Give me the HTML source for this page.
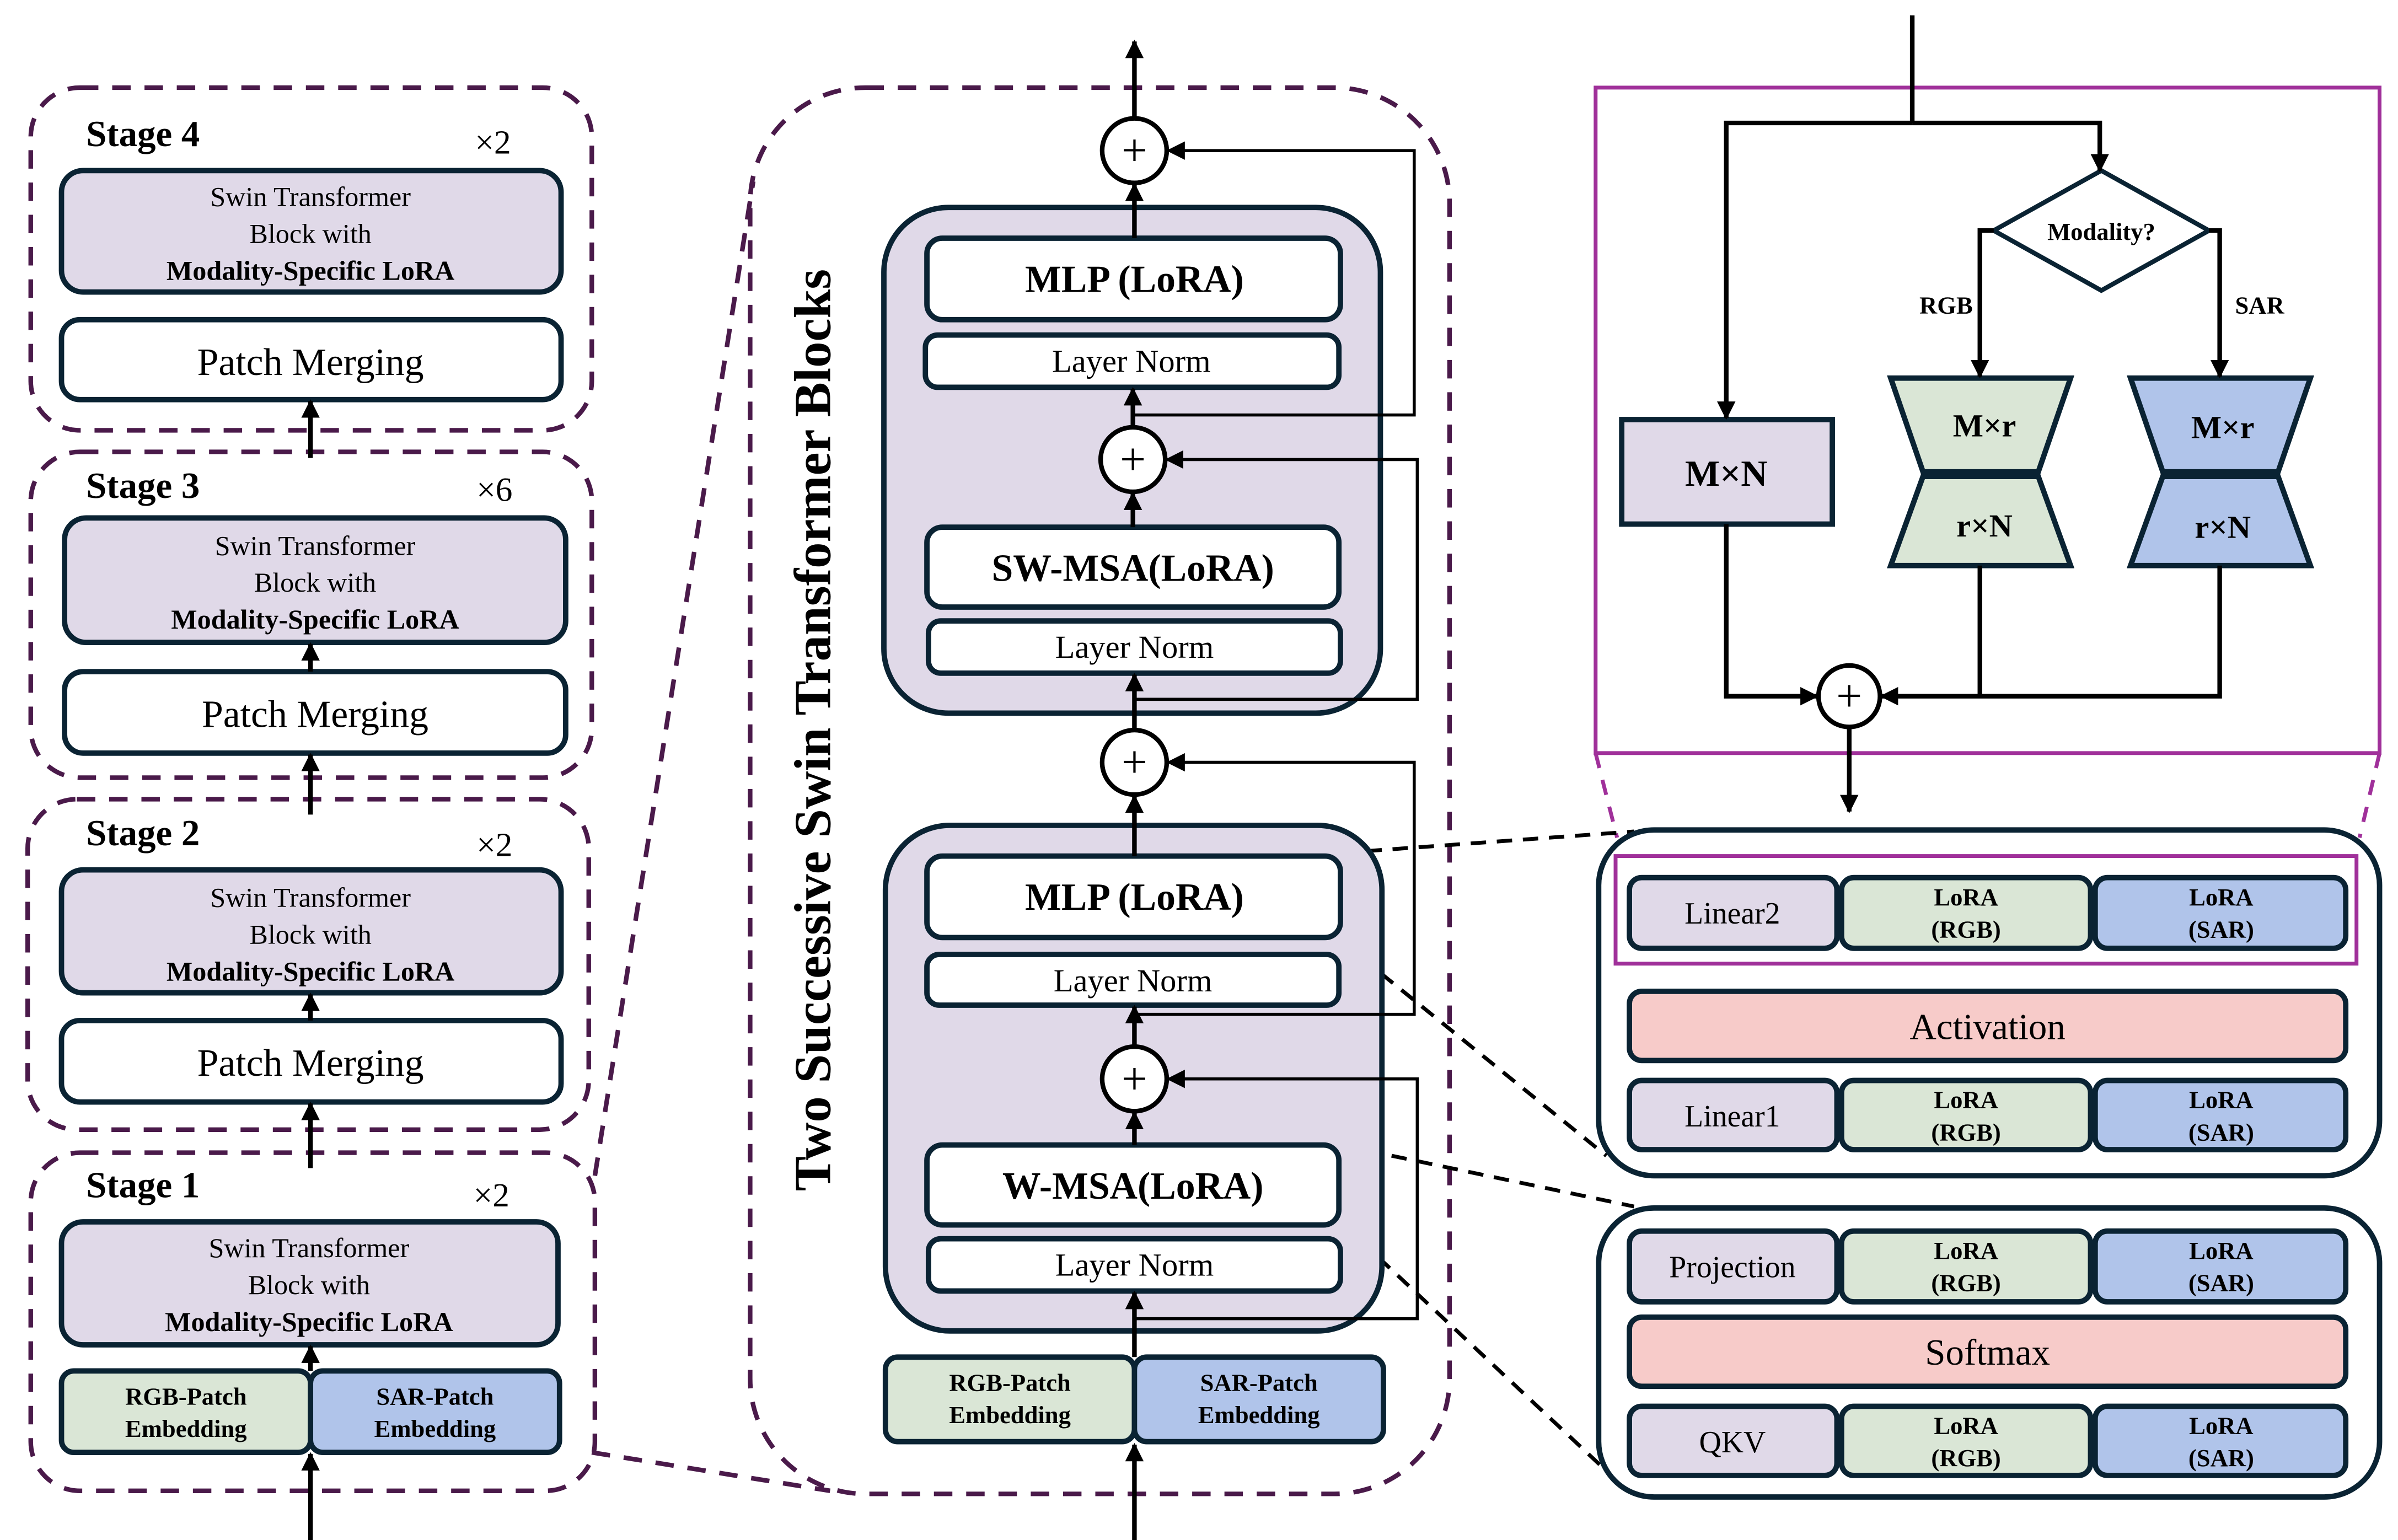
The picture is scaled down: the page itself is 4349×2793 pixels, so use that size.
<!DOCTYPE html>
<html><head><meta charset="utf-8"><style>
html,body{margin:0;padding:0;background:#fff;}
svg{display:block;}
text{font-family:"Liberation Serif",serif;fill:#000;}
</style></head><body>
<svg width="4349" height="2793" viewBox="0 0 1560 1002" preserveAspectRatio="none" xmlns="http://www.w3.org/2000/svg">
<defs>
<marker id="a" viewBox="0 0 10 10" refX="9" refY="5" markerWidth="4" markerHeight="4" orient="auto-start-reverse" markerUnits="strokeWidth"><path d="M0,0 L10,5 L0,10 z" fill="#000"/></marker>
<marker id="b" viewBox="0 0 10 10" refX="9" refY="5" markerWidth="6" markerHeight="6" orient="auto" markerUnits="strokeWidth"><path d="M0,0 L10,5 L0,10 z" fill="#000"/></marker>
</defs>
<g fill="none" stroke="#4a1a4a" stroke-width="3" stroke-dasharray="12,9">
<rect x="20" y="57" width="365" height="223" rx="32"/>
<rect x="20" y="294" width="365" height="212" rx="32"/>
<rect x="18" y="520" width="365" height="215" rx="32"/>
<rect x="20" y="750" width="367" height="220" rx="32"/>
<rect x="488" y="57" width="455" height="915" rx="75"/>
<line x1="387" y1="765" x2="490" y2="118"/>
<line x1="385" y1="945" x2="540" y2="970"/>
</g>
<g fill="none" stroke="#a0309a" stroke-width="2.5">
<rect x="1038" y="57" width="510" height="433"/>
<rect x="1051" y="557" width="482" height="70"/>
<line x1="1038" y1="490" x2="1052" y2="545" stroke-dasharray="10,8"/>
<line x1="1548" y1="490" x2="1535" y2="545" stroke-dasharray="10,8"/>
</g>
<g fill="none" stroke="#000" stroke-width="2.5" stroke-dasharray="10,7">
<line x1="872" y1="555" x2="1063" y2="541"/>
<line x1="872" y1="612" x2="1045" y2="752"/>
<line x1="872" y1="745" x2="1063" y2="785"/>
<line x1="872" y1="795" x2="1045" y2="957"/>
</g>
<g stroke="#0a2333" stroke-width="3.5">
<rect x="40" y="111" width="325" height="79" rx="14" fill="#e0d9e8"/>
<rect x="40" y="208" width="325" height="52" rx="12" fill="#fff"/>
<rect x="42" y="337" width="326" height="81" rx="14" fill="#e0d9e8"/>
<rect x="42" y="437" width="326" height="53" rx="12" fill="#fff"/>
<rect x="40" y="566" width="325" height="80" rx="14" fill="#e0d9e8"/>
<rect x="40" y="664" width="325" height="53" rx="12" fill="#fff"/>
<rect x="40" y="795" width="323" height="80" rx="14" fill="#e0d9e8"/>
<rect x="40" y="892" width="162" height="53" rx="8" fill="#dae6d6"/>
<rect x="202" y="892" width="162" height="53" rx="8" fill="#b0c4ea"/>
<rect x="575" y="135" width="323" height="329" rx="42" fill="#e0d9e8"/>
<rect x="576" y="537" width="323" height="329" rx="42" fill="#e0d9e8"/>
<rect x="603" y="155" width="269" height="53" rx="10" fill="#fff"/>
<rect x="602" y="218" width="269" height="34" rx="8" fill="#fff"/>
<rect x="603" y="343" width="268" height="52" rx="10" fill="#fff"/>
<rect x="604" y="404" width="268" height="34" rx="8" fill="#fff"/>
<rect x="603" y="557" width="269" height="53" rx="10" fill="#fff"/>
<rect x="603" y="621" width="268" height="33" rx="8" fill="#fff"/>
<rect x="603" y="745" width="268" height="52" rx="10" fill="#fff"/>
<rect x="604" y="806" width="268" height="34" rx="8" fill="#fff"/>
<rect x="576" y="883" width="162" height="55" rx="8" fill="#dae6d6"/>
<rect x="738" y="883" width="162" height="55" rx="8" fill="#b0c4ea"/>
<rect x="1055" y="273" width="137" height="68" fill="#e0d9e8"/>
<polygon points="1230,246 1347,246 1326,307 1251,307" fill="#dae6d6"/>
<polygon points="1251,310 1326,310 1347,368 1230,368" fill="#dae6d6"/>
<polygon points="1386,246 1503,246 1482,307 1407,307" fill="#b0c4ea"/>
<polygon points="1407,310 1482,310 1503,368 1386,368" fill="#b0c4ea"/>
<polygon points="1367,111 1437,150 1367,189 1297,150" fill="#fff" stroke-width="3"/>
<rect x="1040" y="540" width="508" height="225" rx="36" fill="none"/>
<rect x="1040" y="786" width="508" height="188" rx="36" fill="none"/>
<rect x="1060" y="571" width="135" height="46" rx="8" fill="#e0d9e8"/>
<rect x="1198" y="571" width="162" height="46" rx="8" fill="#dae6d6"/>
<rect x="1363" y="571" width="163" height="46" rx="8" fill="#b0c4ea"/>
<rect x="1060" y="645" width="466" height="45" rx="8" fill="#f7cbc9"/>
<rect x="1060" y="703" width="135" height="45" rx="8" fill="#e0d9e8"/>
<rect x="1198" y="703" width="162" height="45" rx="8" fill="#dae6d6"/>
<rect x="1363" y="703" width="163" height="45" rx="8" fill="#b0c4ea"/>
<rect x="1060" y="801" width="135" height="46" rx="8" fill="#e0d9e8"/>
<rect x="1198" y="801" width="162" height="46" rx="8" fill="#dae6d6"/>
<rect x="1363" y="801" width="163" height="46" rx="8" fill="#b0c4ea"/>
<rect x="1060" y="857" width="466" height="45" rx="8" fill="#f7cbc9"/>
<rect x="1060" y="915" width="135" height="45" rx="8" fill="#e0d9e8"/>
<rect x="1198" y="915" width="162" height="45" rx="8" fill="#dae6d6"/>
<rect x="1363" y="915" width="163" height="45" rx="8" fill="#b0c4ea"/>
</g>
<g stroke="#000" stroke-width="3" fill="none" marker-end="url(#a)">
<line x1="202" y1="298" x2="202" y2="261"/>
<line x1="202" y1="437" x2="202" y2="419"/>
<line x1="202" y1="530" x2="202" y2="491"/>
<line x1="202" y1="664" x2="202" y2="647"/>
<line x1="202" y1="760" x2="202" y2="718"/>
<line x1="202" y1="892" x2="202" y2="876"/>
<line x1="202" y1="1002" x2="202" y2="946"/>
<line x1="738" y1="77" x2="738" y2="27"/>
<line x1="738" y1="155" x2="738" y2="120"/>
<line x1="737" y1="278" x2="737" y2="253"/>
<line x1="737" y1="343" x2="737" y2="321"/>
<line x1="738" y1="475" x2="738" y2="439"/>
<line x1="738" y1="557" x2="738" y2="518"/>
<line x1="738" y1="681" x2="738" y2="655"/>
<line x1="738" y1="745" x2="738" y2="724"/>
<line x1="738" y1="883" x2="738" y2="841"/>
<line x1="738" y1="1002" x2="738" y2="940"/>
</g>
<g stroke="#000" stroke-width="2" fill="none" marker-end="url(#b)">
<polyline points="738,270 920,270 920,98 760,98"/>
<polyline points="738,455 922,455 922,299 759,299"/>
<polyline points="738,660 920,660 920,496 760,496"/>
<polyline points="738,858 922,858 922,702 760,702"/>
</g>
<g stroke="#000" stroke-width="3" fill="none" marker-end="url(#a)">
<line x1="1244" y1="10" x2="1244" y2="80" marker-end="none"/>
<polyline points="1244,80 1123,80 1123,272"/>
<polyline points="1244,80 1366,80 1366,111"/>
<polyline points="1297,150 1288,150 1288,245"/>
<polyline points="1437,150 1444,150 1444,245"/>
<polyline points="1123,341 1123,453 1182,453"/>
<polyline points="1444,368 1444,453 1224,453"/>
<line x1="1288" y1="368" x2="1288" y2="453" marker-end="none"/>
<line x1="1203" y1="474" x2="1203" y2="528"/>
</g>
<g stroke="#000" stroke-width="3" fill="#fff">
<circle cx="738" cy="98" r="21"/><circle cx="737" cy="299" r="21"/>
<circle cx="738" cy="496" r="21"/><circle cx="738" cy="702" r="21"/>
<circle cx="1203" cy="453" r="20"/>
</g>
<g font-size="30" text-anchor="middle" dominant-baseline="central">
<text x="738" y="98">+</text><text x="737" y="299">+</text><text x="738" y="496">+</text><text x="738" y="702">+</text><text x="1203" y="453">+</text>
</g>
<g font-weight="bold" font-size="24">
<text x="56" y="95">Stage 4</text><text x="56" y="324">Stage 3</text><text x="56" y="550">Stage 2</text><text x="56" y="779">Stage 1</text>
</g>
<g font-size="22"><text x="309" y="100">×2</text><text x="310" y="326">×6</text><text x="310" y="557">×2</text><text x="308" y="785">×2</text></g>
<g text-anchor="middle" font-size="18">
<text x="202" y="134">Swin Transformer</text><text x="202" y="158">Block with</text><text x="202" y="182" font-weight="bold">Modality-Specific LoRA</text>
<text x="205" y="361">Swin Transformer</text><text x="205" y="385">Block with</text><text x="205" y="409" font-weight="bold">Modality-Specific LoRA</text>
<text x="202" y="590">Swin Transformer</text><text x="202" y="614">Block with</text><text x="202" y="638" font-weight="bold">Modality-Specific LoRA</text>
<text x="201" y="818">Swin Transformer</text><text x="201" y="842">Block with</text><text x="201" y="866" font-weight="bold">Modality-Specific LoRA</text>
</g>
<g text-anchor="middle" font-size="25">
<text x="202" y="244">Patch Merging</text><text x="205" y="473">Patch Merging</text><text x="202" y="700">Patch Merging</text>
</g>
<g text-anchor="middle" font-size="16" font-weight="bold">
<text x="121" y="914">RGB-Patch</text><text x="121" y="935">Embedding</text>
<text x="283" y="914">SAR-Patch</text><text x="283" y="935">Embedding</text>
<text x="657" y="905">RGB-Patch</text><text x="657" y="926">Embedding</text>
<text x="819" y="905">SAR-Patch</text><text x="819" y="926">Embedding</text>
</g>
<text x="0" y="0" transform="translate(540,475) rotate(-90)" text-anchor="middle" font-size="34" font-weight="bold">Two Successive Swin Transformer Blocks</text>
<g text-anchor="middle" font-weight="bold" font-size="25">
<text x="738" y="190">MLP (LoRA)</text><text x="737" y="378">SW-MSA(LoRA)</text>
<text x="738" y="592">MLP (LoRA)</text><text x="737" y="780">W-MSA(LoRA)</text>
</g>
<g text-anchor="middle" font-size="21">
<text x="736" y="242">Layer Norm</text><text x="738" y="428">Layer Norm</text>
<text x="737" y="645">Layer Norm</text><text x="738" y="830">Layer Norm</text>
</g>
<g text-anchor="middle" font-weight="bold">
<text x="1367" y="156" font-size="16">Modality?</text>
<text x="1266" y="204" font-size="16">RGB</text><text x="1470" y="204" font-size="16">SAR</text>
<text x="1123" y="316" font-size="24">M×N</text>
<text x="1291" y="284" font-size="21">M×r</text><text x="1291" y="349" font-size="21">r×N</text>
<text x="1446" y="285" font-size="21">M×r</text><text x="1446" y="350" font-size="21">r×N</text>
</g>
<g text-anchor="middle" font-size="20">
<text x="1127" y="601">Linear2</text><text x="1293" y="676" font-size="24">Activation</text><text x="1127" y="733">Linear1</text>
<text x="1127" y="831">Projection</text><text x="1293" y="888" font-size="24">Softmax</text><text x="1127" y="945">QKV</text>
</g>
<g text-anchor="middle" font-size="16" font-weight="bold">
<text x="1279" y="589">LoRA</text><text x="1279" y="610">(RGB)</text><text x="1445" y="589">LoRA</text><text x="1445" y="610">(SAR)</text>
<text x="1279" y="721">LoRA</text><text x="1279" y="742">(RGB)</text><text x="1445" y="721">LoRA</text><text x="1445" y="742">(SAR)</text>
<text x="1279" y="819">LoRA</text><text x="1279" y="840">(RGB)</text><text x="1445" y="819">LoRA</text><text x="1445" y="840">(SAR)</text>
<text x="1279" y="933">LoRA</text><text x="1279" y="954">(RGB)</text><text x="1445" y="933">LoRA</text><text x="1445" y="954">(SAR)</text>
</g>
</svg>
</body></html>
